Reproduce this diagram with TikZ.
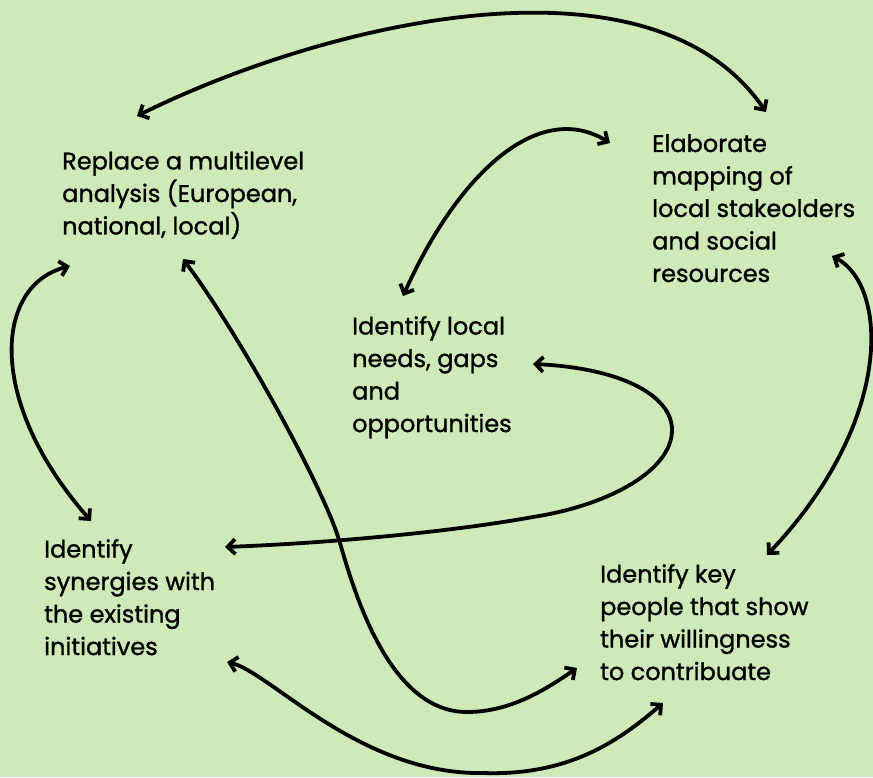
\documentclass[tikz,border=0pt]{standalone}
\usepackage{fontspec}
\setmainfont{Poppins}[BoldFont={Poppins}, BoldFeatures={FakeBold=1.2}]
\usetikzlibrary{arrows.meta}
\definecolor{bg}{RGB}{205,234,184}
\tikzset{
  lbl/.style={anchor=north west, inner sep=0pt, align=left, font=\fontsize{24}{32.5}\selectfont\bfseries},
  conn/.style={line width=3.8pt, {Straight Barb[length=7.5pt,width=15pt]}-{Straight Barb[length=7.5pt,width=15pt]}},
}
\begin{document}
\begin{tikzpicture}[x=1pt,y=-1pt]
\fill[bg] (0,0) rectangle (873,777);
\useasboundingbox (0,0) rectangle (873,777);

\node[lbl] (rep) at (62,151) {Replace a multilevel\\analysis (European,\\national, local)};
\node[lbl] (elab) at (652,134) {Elaborate\\mapping of\\local stakeolders\\and social\\resources};
\node[lbl] (need) at (352,316) {Identify local\\needs, gaps\\and\\opportunities};
\node[lbl] (syn) at (44,539) {Identify\\synergies with\\the existing\\initiatives};
\node[lbl] (key) at (600,564) {Identify key\\people that show\\their willingness\\to contribuate};

\coordinate (a1s) at (137,116);
\coordinate (a1e) at (766,112);
\coordinate (a2s) at (403,296);
\coordinate (a2e) at (610,143);
\coordinate (a3s) at (70,266);
\coordinate (a3e) at (91,521);
\coordinate (a4s) at (183,259);
\coordinate (a4e) at (577,668);
\coordinate (a5s) at (533,364);
\coordinate (a5e) at (225,547);
\coordinate (a6s) at (832,256);
\coordinate (a6e) at (767,555);
\coordinate (a7s) at (227,662);
\coordinate (a7e) at (663,703);

\draw[conn] (a1s) .. controls (320,25) and (650,-58) .. (a1e);
\draw[conn] (a2s) .. controls (460,170) and (540,100) .. (a2e);
\draw[conn] (a3s) .. controls (-5,285) and (-15,400) .. (a3e);
\draw[conn] (a4s) .. controls (240,335) and (325,490) .. (340,543)
  .. controls (355,595) and (390,712) .. (467,712)
  .. controls (510,712) and (545,690) .. (a4e);
\draw[conn] (a5s) .. controls (620,368) and (672,395) .. (672,430)
  .. controls (672,470) and (610,505) .. (533,517)
  .. controls (450,532) and (330,543) .. (a5e);
\draw[conn] (a6s) .. controls (888,285) and (895,420) .. (a6e);
\draw[conn] (a7s) .. controls (270,672) and (360,775) .. (483,773)
  .. controls (570,776) and (620,740) .. (a7e);
\end{tikzpicture}
\end{document}
